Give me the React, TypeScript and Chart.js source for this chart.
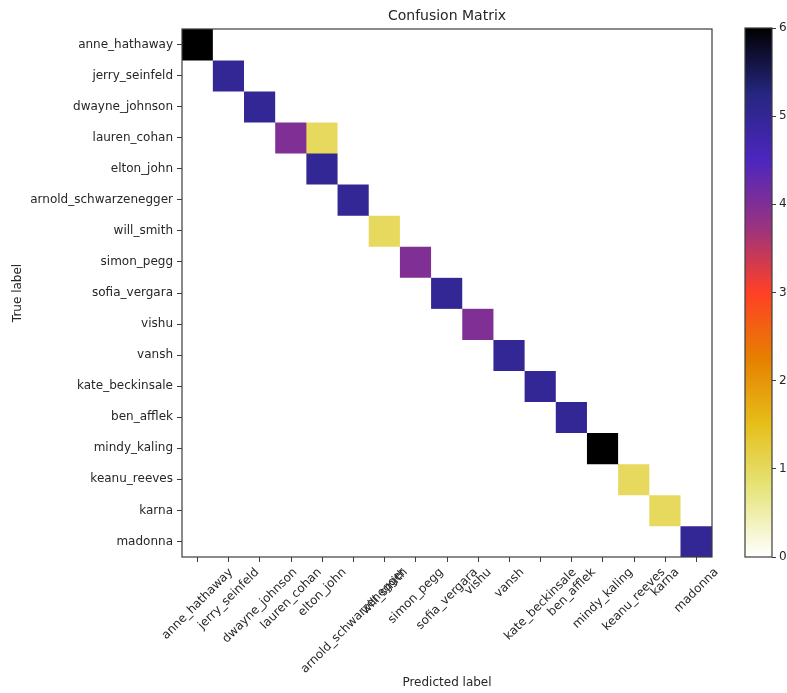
import React, { useEffect, useRef } from 'react';
import { Chart, registerables } from 'chart.js';

Chart.register(...registerables);

// ---------- data ----------
const classNames = [
  'anne_hathaway',
  'jerry_seinfeld',
  'dwayne_johnson',
  'lauren_cohan',
  'elton_john',
  'arnold_schwarzenegger',
  'will_smith',
  'simon_pegg',
  'sofia_vergara',
  'vishu',
  'vansh',
  'kate_beckinsale',
  'ben_afflek',
  'mindy_kaling',
  'keanu_reeves',
  'karna',
  'madonna',
];

// rows = true label, columns = predicted label
const confusion = [
  [6, 0, 0, 0, 0, 0, 0, 0, 0, 0, 0, 0, 0, 0, 0, 0, 0],
  [0, 5, 0, 0, 0, 0, 0, 0, 0, 0, 0, 0, 0, 0, 0, 0, 0],
  [0, 0, 5, 0, 0, 0, 0, 0, 0, 0, 0, 0, 0, 0, 0, 0, 0],
  [0, 0, 0, 4, 1, 0, 0, 0, 0, 0, 0, 0, 0, 0, 0, 0, 0],
  [0, 0, 0, 0, 5, 0, 0, 0, 0, 0, 0, 0, 0, 0, 0, 0, 0],
  [0, 0, 0, 0, 0, 5, 0, 0, 0, 0, 0, 0, 0, 0, 0, 0, 0],
  [0, 0, 0, 0, 0, 0, 1, 0, 0, 0, 0, 0, 0, 0, 0, 0, 0],
  [0, 0, 0, 0, 0, 0, 0, 4, 0, 0, 0, 0, 0, 0, 0, 0, 0],
  [0, 0, 0, 0, 0, 0, 0, 0, 5, 0, 0, 0, 0, 0, 0, 0, 0],
  [0, 0, 0, 0, 0, 0, 0, 0, 0, 4, 0, 0, 0, 0, 0, 0, 0],
  [0, 0, 0, 0, 0, 0, 0, 0, 0, 0, 5, 0, 0, 0, 0, 0, 0],
  [0, 0, 0, 0, 0, 0, 0, 0, 0, 0, 0, 5, 0, 0, 0, 0, 0],
  [0, 0, 0, 0, 0, 0, 0, 0, 0, 0, 0, 0, 5, 0, 0, 0, 0],
  [0, 0, 0, 0, 0, 0, 0, 0, 0, 0, 0, 0, 0, 6, 0, 0, 0],
  [0, 0, 0, 0, 0, 0, 0, 0, 0, 0, 0, 0, 0, 0, 1, 0, 0],
  [0, 0, 0, 0, 0, 0, 0, 0, 0, 0, 0, 0, 0, 0, 0, 1, 0],
  [0, 0, 0, 0, 0, 0, 0, 0, 0, 0, 0, 0, 0, 0, 0, 0, 5],
];

const colorbarTicks = [0, 1, 2, 3, 4, 5, 6];
const vmin = 0;
const vmax = 6;

const chartTitle = 'Confusion Matrix';
const xTitle = 'Predicted label';
const yTitle = 'True label';

// ---------- styling ----------
const FONT = 'DejaVu Sans';
const TEXT = '#262626';
const LINE = '#3c3c3c';

// matplotlib CMRmap segment data: [pos, r, g, b]
const cmrStops: [number, number, number, number][] = [
  [0.0, 0.0, 0.0, 0.0],
  [0.125, 0.15, 0.15, 0.5],
  [0.25, 0.3, 0.15, 0.75],
  [0.375, 0.6, 0.2, 0.5],
  [0.5, 1.0, 0.25, 0.15],
  [0.625, 0.9, 0.5, 0.0],
  [0.75, 0.9, 0.75, 0.1],
  [0.875, 0.9, 0.9, 0.5],
  [1.0, 1.0, 1.0, 1.0],
];

function cmrmap(p: number): string {
  const t = Math.max(0, Math.min(1, p));
  for (let k = 0; k < cmrStops.length - 1; k++) {
    const a = cmrStops[k];
    const b = cmrStops[k + 1];
    if (t >= a[0] && t <= b[0]) {
      const f = (t - a[0]) / (b[0] - a[0]);
      const r = Math.round((a[1] + (b[1] - a[1]) * f) * 255);
      const g = Math.round((a[2] + (b[2] - a[2]) * f) * 255);
      const bl = Math.round((a[3] + (b[3] - a[3]) * f) * 255);
      return `rgb(${r},${g},${bl})`;
    }
  }
  return 'rgb(255,255,255)';
}

// reversed colormap (CMRmap_r)
function cmapR(v: number): string {
  return cmrmap(1 - (v - vmin) / (vmax - vmin));
}

const mainDecor = {
  id: 'mainDecor',
  afterDraw(chart: any) {
    const { ctx, chartArea: a } = chart;
    ctx.save();
    // frame (all four spines)
    ctx.strokeStyle = LINE;
    ctx.lineWidth = 1.2;
    ctx.strokeRect(a.left, a.top, a.right - a.left, a.bottom - a.top);
    // title
    ctx.fillStyle = TEXT;
    ctx.font = `14px "${FONT}"`;
    ctx.textAlign = 'center';
    ctx.textBaseline = 'middle';
    ctx.fillText(chartTitle, (a.left + a.right) / 2, a.top - 13);
    // rotated x tick labels, bbox centred on tick (matplotlib rotation=45)
    const xs = chart.scales.x;
    ctx.font = `12px "${FONT}"`;
    classNames.forEach((name, i) => {
      const x = xs.getPixelForTick(i);
      const w = ctx.measureText(name).width;
      const half = (Math.SQRT1_2 * (w + 14)) / 2;
      ctx.save();
      ctx.translate(x, a.bottom + 8.5 + half);
      ctx.rotate(-Math.PI / 4);
      ctx.fillText(name, 0, 0);
      ctx.restore();
    });
    ctx.restore();
  },
};

const cbOutline = {
  id: 'cbOutline',
  afterDraw(chart: any) {
    const { ctx, chartArea: a } = chart;
    ctx.save();
    ctx.strokeStyle = LINE;
    ctx.lineWidth = 1.2;
    ctx.strokeRect(a.left, a.top, a.right - a.left, a.bottom - a.top);
    ctx.restore();
  },
};

export default function App() {
  const mainRef = useRef<HTMLCanvasElement>(null);
  const cbRef = useRef<HTMLCanvasElement>(null);

  useEffect(() => {
    if (!mainRef.current || !cbRef.current) return;

    const datasets = confusion.map((row, i) => ({
      label: classNames[i],
      data: row.map(() => [i - 0.5, i + 0.5]),
      backgroundColor: row.map((v) => cmapR(v)),
      borderWidth: 0,
      barPercentage: 1,
      categoryPercentage: 1,
      grouped: false,
    }));

    const main = new Chart(mainRef.current, {
      type: 'bar',
      data: { labels: classNames, datasets: datasets as any },
      options: {
        animation: false,
        responsive: false,
        events: [],
        layout: { padding: { top: 29, right: 75, bottom: 0, left: 0 } },
        plugins: { legend: { display: false }, tooltip: { enabled: false }, title: { display: false } },
        scales: {
          x: {
            type: 'category',
            offset: true,
            grid: { display: true, drawOnChartArea: false, drawTicks: true, tickLength: 5, color: LINE, offset: false },
            border: { display: false },
            ticks: { display: false },
            title: {
              display: true,
              text: xTitle,
              color: TEXT,
              font: { family: FONT, size: 12 },
              padding: { top: 0, bottom: 3 },
            },
            afterFit: (s: any) => {
              s.height = 136;
            },
          },
          y: {
            type: 'linear',
            reverse: true,
            min: -0.5,
            max: classNames.length - 0.5,
            afterBuildTicks: (s: any) => {
              s.ticks = classNames.map((_, i) => ({ value: i }));
            },
            grid: { display: true, drawOnChartArea: false, drawTicks: true, tickLength: 5, color: LINE },
            border: { display: false },
            ticks: {
              autoSkip: false,
              color: TEXT,
              font: { family: FONT, size: 12 },
              padding: 4,
              callback: (v: any) => classNames[Math.round(Number(v))] ?? '',
            },
            title: {
              display: true,
              text: yTitle,
              color: TEXT,
              font: { family: FONT, size: 12 },
              padding: { top: 11, bottom: 0 },
            },
            afterFit: (s: any) => {
              s.width = 182;
            },
          },
        },
      },
      plugins: [mainDecor],
    });

    const cb = new Chart(cbRef.current, {
      type: 'bar',
      data: {
        labels: [''],
        datasets: [
          {
            data: [[vmin, vmax]] as any,
            backgroundColor: (c: any) => {
              const area = c.chart.chartArea;
              if (!area) return cmapR(vmax / 2);
              const g = c.chart.ctx.createLinearGradient(0, area.bottom, 0, area.top);
              cmrStops.forEach((s) => {
                g.addColorStop(1 - s[0], cmrmap(s[0]));
              });
              return g;
            },
            borderWidth: 0,
            barPercentage: 1,
            categoryPercentage: 1,
          },
        ],
      },
      options: {
        animation: false,
        responsive: false,
        events: [],
        layout: { padding: { top: 28, bottom: 136, left: 15, right: 0 } },
        plugins: { legend: { display: false }, tooltip: { enabled: false } },
        scales: {
          x: { display: false },
          y: {
            position: 'right',
            min: vmin,
            max: vmax,
            afterBuildTicks: (s: any) => {
              s.ticks = colorbarTicks.map((v) => ({ value: v }));
            },
            grid: { display: true, drawOnChartArea: false, drawTicks: true, tickLength: 4, color: LINE },
            border: { display: false },
            ticks: { color: TEXT, font: { family: FONT, size: 12 }, padding: 3 },
            afterFit: (s: any) => {
              s.width = 15;
            },
          },
        },
      },
      plugins: [cbOutline],
    });

    return () => {
      main.destroy();
      cb.destroy();
    };
  }, []);

  return (
    <div style={{ position: 'fixed', left: 0, top: 0, width: 787, height: 693, background: '#fff' }}>
      <canvas
        ref={mainRef}
        width={787}
        height={693}
        style={{ position: 'absolute', left: 0, top: 0, display: 'block' }}
      />
      <canvas
        ref={cbRef}
        width={57}
        height={693}
        style={{ position: 'absolute', left: 730, top: 0, display: 'block' }}
      />
    </div>
  );
}
